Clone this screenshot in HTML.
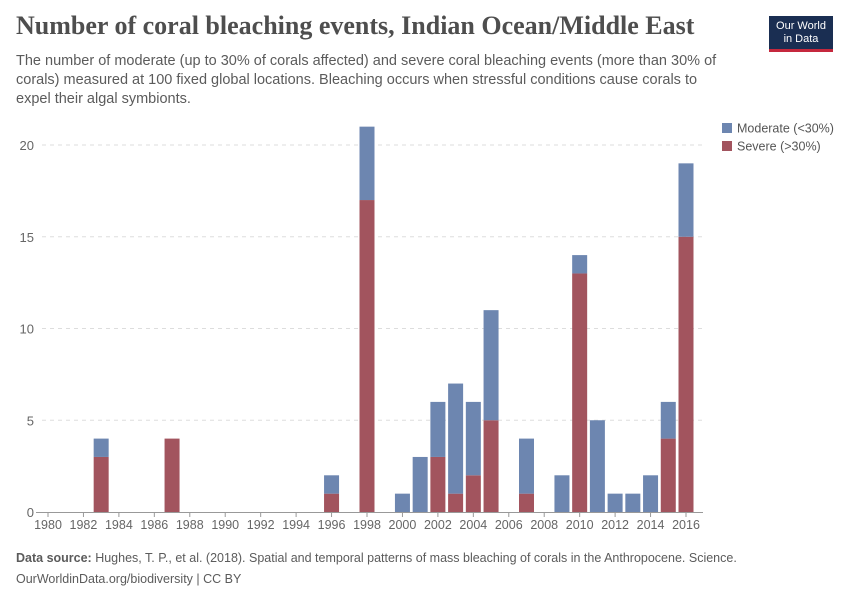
<!DOCTYPE html>
<html><head><meta charset="utf-8"><style>
body{margin:0;background:#fff;width:850px;height:600px;overflow:hidden;font-family:"Liberation Sans",sans-serif;}
#title{position:absolute;left:16px;top:11px;font-family:"Liberation Serif",serif;font-size:26px;color:#4e4e4e;font-weight:bold;}
#sub{position:absolute;left:16px;top:52px;width:715px;font-size:14.5px;line-height:19px;color:#5b5b5b;}
#logo{position:absolute;left:769px;top:16px;width:64px;height:36px;background:#1a2e52;border-bottom:3px solid #c5283d;color:#fff;font-size:11px;text-align:center;line-height:13px;padding-top:4px;box-sizing:border-box;}
#foot{position:absolute;left:16px;top:548px;font-size:12.5px;color:#5b5b5b;line-height:21px;}
</style></head><body>
<div id="title">Number of coral bleaching events, Indian Ocean/Middle East</div>
<div id="sub">The number of moderate (up to 30% of corals affected) and severe coral bleaching events (more than 30% of corals) measured at 100 fixed global locations. Bleaching occurs when stressful conditions cause corals to expel their algal symbionts.</div>
<div id="logo">Our World<br>in Data</div>
<svg id="chart" width="850" height="600" style="position:absolute;left:0;top:0"></svg>
<div id="foot"><b>Data source:</b> Hughes, T. P., et al. (2018). Spatial and temporal patterns of mass bleaching of corals in the Anthropocene. Science.<br>OurWorldinData.org/biodiversity | CC BY</div>
<script>
const years=[1983,1987,1996,1998,2000,2001,2002,2003,2004,2005,2007,2009,2010,2011,2012,2013,2014,2015,2016];
const severe=[3,4,1,17,0,0,3,1,2,5,1,0,13,0,0,0,0,4,15];
const moderate=[1,0,1,4,1,3,3,6,4,6,3,2,1,5,1,1,2,2,4];
const yTicks=[0,5,10,15,20];
const xTicks=[1980,1982,1984,1986,1988,1990,1992,1994,1996,1998,2000,2002,2004,2006,2008,2010,2012,2014,2016];
const NS="http://www.w3.org/2000/svg";
const svg=document.getElementById('chart');
const x=v=>48+(v-1980)*(638/36);
const y=v=>512-v*(367/20);
function mk(t,a){const e=document.createElementNS(NS,t);for(const k in a)e.setAttribute(k,a[k]);svg.appendChild(e);return e;}
yTicks.forEach(t=>{
 if(t>0){const l=mk('line',{x1:42,x2:703,y1:y(t),y2:y(t),stroke:'#ddd','stroke-dasharray':'4,4'});
 
 }
 const tx=mk('text',{x:34,y:y(t)+5,'text-anchor':'end','font-size':13,fill:'#666'});tx.textContent=t;
 
 
});
const ax=mk('line',{x1:36,x2:703,y1:512.5,y2:512.5,stroke:'#999'});


xTicks.forEach(t=>{
 mk('line',{x1:x(t),x2:x(t),y1:512,y2:517,stroke:'#999'});
 const tx=mk('text',{x:x(t),y:529,'text-anchor':'middle','font-size':12.5,fill:'#666'});tx.textContent=t;
 
 
});
const bw=15;
years.forEach((yr,i)=>{
 const s=severe[i],m=moderate[i];
 if(s>0){const r=mk('rect',{x:x(yr)-bw/2,y:y(s),width:bw,height:y(0)-y(s),fill:'#a2545e'});
 
 }
 if(m>0){const r=mk('rect',{x:x(yr)-bw/2,y:y(s+m),width:bw,height:y(s)-y(s+m),fill:'#6d86b0'});
 
 }
});
[['Moderate (<30%)','#6d86b0',128],['Severe (>30%)','#a2545e',146]].forEach(([t,c,yy])=>{
 const r=mk('rect',{x:722,y:yy-5,width:10,height:10,fill:c});
 
 
 const tx=mk('text',{x:737,y:yy+4.5,'font-size':12.5,fill:'#555'});tx.textContent=t;
 
 
});
</script>
</body></html>
